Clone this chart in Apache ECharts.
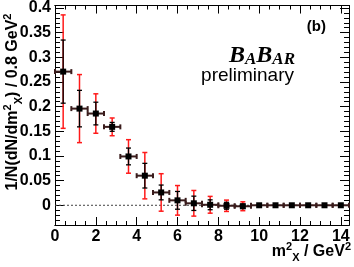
<!DOCTYPE html>
<html>
<head>
<meta charset="utf-8">
<script src="https://cdn.jsdelivr.net/npm/echarts@6/dist/echarts.min.js"></script>
<style>
html,body{margin:0;padding:0;background:#fff;}
#c{width:354px;height:267px;}
</style>
</head>
<body>
<div id="c"></div>
<script>
// ---- data ----
const xCenters = [0.4, 1.2, 2.0, 2.8, 3.6, 4.4, 5.2, 6.0, 6.8, 7.6, 8.4, 9.2, 10.0, 10.8, 11.6, 12.4, 13.2, 14.0];
const values   = [0.271, 0.196, 0.186, 0.159, 0.099, 0.060, 0.026, 0.010, 0.004, 0.001, -0.001, -0.002, 0.000, 0.000, 0.000, 0.000, 0.000, 0.000];
const statErr  = [0.064, 0.037, 0.023, 0.009, 0.017, 0.025, 0.015, 0.018, 0.0145, 0.010, 0.007, 0.0045, 0.001, 0.001, 0.001, 0.001, 0.001, 0.001];
const totErr   = [0.115, 0.069, 0.040, 0.018, 0.034, 0.047, 0.038, 0.030, 0.026, 0.017, 0.0115, 0.009, 0.001, 0.001, 0.001, 0.001, 0.001, 0.001];
const binHalf  = 0.4;
const xMajor = [0, 2, 4, 6, 8, 10, 12, 14];
const xMinor = [0.5,1,1.5,2.5,3,3.5,4.5,5,5.5,6.5,7,7.5,8.5,9,9.5,10.5,11,11.5,12.5,13,13.5];
const yMajor = [0, 0.05, 0.1, 0.15, 0.2, 0.25, 0.3, 0.35, 0.4];
const yMinor = [-0.04,-0.03,-0.02,-0.01,0.01,0.02,0.03,0.04,0.06,0.07,0.08,0.09,0.11,0.12,0.13,0.14,0.16,0.17,0.18,0.19,0.21,0.22,0.23,0.24,0.26,0.27,0.28,0.29,0.31,0.32,0.33,0.34,0.36,0.37,0.38,0.39];
const xMin = 0, xMax = 14.4, yMin = -0.04, yMax = 0.405;

const FONT = 'Liberation Sans';
const chart = echarts.init(document.getElementById('c'), null, {renderer: 'canvas'});

function xAx(pos, ticks, len, labels) {
  return {
    type: 'value', min: xMin, max: xMax, position: pos,
    axisLine: {show: true, onZero: false, lineStyle: {color: '#000', width: 1}},
    axisTick: {show: true, inside: true, length: len, customValues: ticks, lineStyle: {color: '#000', width: 1}},
    axisLabel: labels ? {show: true, customValues: ticks, color: '#000', fontFamily: FONT, fontWeight: 'bold', fontSize: 16, margin: 4,
      formatter: v => String(Math.round(v))} : {show: false},
    splitLine: {show: false}
  };
}
function yAx(pos, ticks, len, labels) {
  return {
    type: 'value', min: yMin, max: yMax, position: pos,
    axisLine: {show: true, onZero: false, lineStyle: {color: '#000', width: 1}},
    axisTick: {show: true, inside: true, length: len, customValues: ticks, lineStyle: {color: '#000', width: 1}},
    axisLabel: labels ? {show: true, customValues: ticks, color: '#000', fontFamily: FONT, fontWeight: 'bold', fontSize: 16, margin: 4,
      formatter: v => (Math.abs(v) < 1e-9 ? '0' : String(Math.round(v * 100) / 100))} : {show: false},
    splitLine: {show: false}
  };
}

const errData = xCenters.map((x, i) => [x, values[i], statErr[i], totErr[i]]);

const richSS = {
  b: {fontFamily: FONT, fontWeight: 'bold', fontSize: 16, fill: '#000', lineHeight: 22, verticalAlign: 'middle'},
  sup: {fontFamily: FONT, fontWeight: 'bold', fontSize: 11, fill: '#000', lineHeight: 22, verticalAlign: 'top'},
  sub: {fontFamily: FONT, fontWeight: 'bold', fontSize: 11, fill: '#000', lineHeight: 22, verticalAlign: 'bottom'}
};

const option = {
  animation: false,
  backgroundColor: '#fff',
  grid: {left: 55, right: 5, top: 5, bottom: 42, containLabel: false},
  xAxis: [xAx('bottom', xMajor, 8, true), xAx('bottom', xMinor, 4, false), xAx('top', xMajor, 8, false), xAx('top', xMinor, 4, false)],
  yAxis: [yAx('left', yMajor, 9, true), yAx('left', yMinor, 5, false), yAx('right', yMajor, 9, false), yAx('right', yMinor, 5, false)],
  series: [
    {
      type: 'line', xAxisIndex: 0, yAxisIndex: 0, symbol: 'none', silent: true,
      data: [[xMin, 0], [xMax, 0]],
      lineStyle: {color: '#444', width: 1, type: [2, 2]}, z: 1
    },
    {
      type: 'custom', xAxisIndex: 0, yAxisIndex: 0, z: 5,
      data: errData,
      renderItem: function (params, api) {
        const x = api.value(0), y = api.value(1), s = api.value(2), t = api.value(3);
        const c = api.coord([x, y]);
        const tTop = api.coord([x, y + t]), tBot = api.coord([x, y - t]);
        const sTop = api.coord([x, y + s]), sBot = api.coord([x, y - s]);
        const l = api.coord([x - binHalf, y]), r = api.coord([x + binHalf, y]);
        const children = [];
        const cap = 2.5;
        const red = {stroke: '#ff1a1a', lineWidth: 1.5};
        const blk = {stroke: '#000', lineWidth: 1.3};
        const hor = {stroke: '#3a1c1c', lineWidth: 2};
        if (tBot[1] - tTop[1] > 3) {
          children.push({type: 'line', shape: {x1: c[0], y1: tTop[1], x2: c[0], y2: tBot[1]}, style: red});
          children.push({type: 'line', shape: {x1: c[0] - cap, y1: tTop[1], x2: c[0] + cap, y2: tTop[1]}, style: red});
          children.push({type: 'line', shape: {x1: c[0] - cap, y1: tBot[1], x2: c[0] + cap, y2: tBot[1]}, style: red});
        }
        if (sBot[1] - sTop[1] > 3) {
          children.push({type: 'line', shape: {x1: c[0], y1: sTop[1], x2: c[0], y2: sBot[1]}, style: blk});
          children.push({type: 'line', shape: {x1: c[0] - cap, y1: sTop[1], x2: c[0] + cap, y2: sTop[1]}, style: blk});
          children.push({type: 'line', shape: {x1: c[0] - cap, y1: sBot[1], x2: c[0] + cap, y2: sBot[1]}, style: blk});
        }
        children.push({type: 'line', shape: {x1: l[0], y1: c[1], x2: r[0], y2: c[1]}, style: hor});
        children.push({type: 'line', shape: {x1: l[0], y1: c[1] - cap, x2: l[0], y2: c[1] + cap}, style: hor});
        children.push({type: 'line', shape: {x1: r[0], y1: c[1] - cap, x2: r[0], y2: c[1] + cap}, style: hor});
        children.push({type: 'rect', shape: {x: c[0] - 3, y: c[1] - 3, width: 6, height: 6}, style: {fill: '#000'}});
        return {type: 'group', children: children};
      }
    }
  ],
  graphic: [
    {
      type: 'text', x: 13, y: 102, rotation: Math.PI / 2,
      style: {
        text: '{b|1/N(dN/dm}{sup|2}{sub|X}{b|) / 0.8 GeV}{sup|2}',
        align: 'center', verticalAlign: 'middle', rich: richSS
      }
    },
    {
      type: 'text', x: 351, y: 252,
      style: {
        text: '{b|m}{sup|2}{sub|X}{b| / GeV}{sup|2}',
        align: 'right', verticalAlign: 'middle', rich: richSS
      }
    },
    {
      type: 'text', x: 326, y: 27,
      style: {text: '(b)', align: 'right', verticalAlign: 'middle', fontFamily: FONT, fontWeight: 'bold', fontSize: 15, fill: '#000'}
    },
    {
      type: 'text', x: 295, y: 68,
      style: {
        text: '{B|B}{s|A}{B|B}{s|AR}',
        align: 'right', verticalAlign: 'bottom',
        rich: {
          B: {fontFamily: 'Liberation Serif', fontWeight: 'bold', fontStyle: 'italic', fontSize: 24, fill: '#000', verticalAlign: 'bottom'},
          s: {fontFamily: 'Liberation Serif', fontWeight: 'bold', fontStyle: 'italic', fontSize: 17, fill: '#000', verticalAlign: 'bottom'}
        }
      }
    },
    {
      type: 'text', x: 294, y: 76,
      style: {text: 'preliminary', align: 'right', verticalAlign: 'middle', fontFamily: FONT, fontSize: 19, fill: '#000'}
    }
  ]
};
chart.setOption(option);
</script>
</body>
</html>
